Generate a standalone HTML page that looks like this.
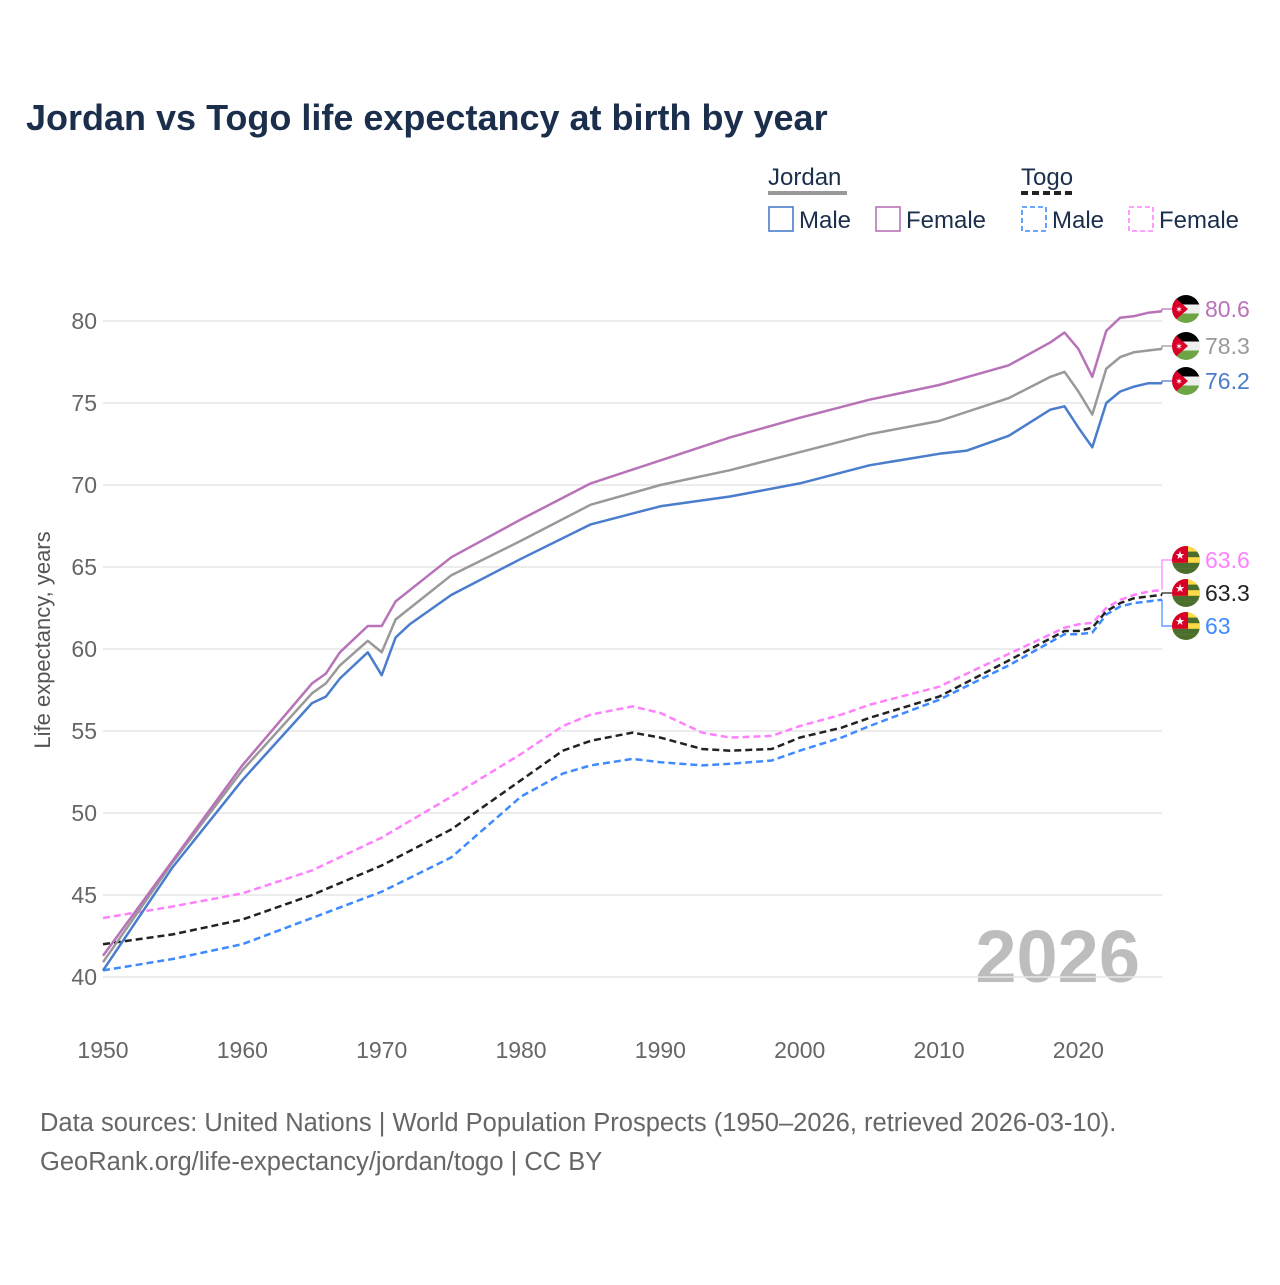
<!DOCTYPE html>
<html><head><meta charset="utf-8">
<style>
body{margin:0;background:#fff;font-family:"Liberation Sans",sans-serif;}
svg text{font-family:"Liberation Sans",sans-serif;}
</style></head>
<body>
<svg id="chart" width="1280" height="1280" viewBox="0 0 1280 1280" xmlns="http://www.w3.org/2000/svg">
<defs>
<clipPath id="cc"><circle cx="0" cy="0" r="14"/></clipPath>
<g id="jo">
<g clip-path="url(#cc)">
<rect x="-14" y="-14" width="28" height="10" fill="#000"/>
<rect x="-14" y="-4.5" width="28" height="9" fill="#eee"/>
<rect x="-14" y="4.5" width="28" height="10" fill="#6da544"/>
<polygon points="-14,-14 2,0 -14,14" fill="#d80027"/>
<text x="-7" y="3.5" font-size="9" fill="#fff" text-anchor="middle">✶</text>
</g></g>
<g id="tg">
<g clip-path="url(#cc)">
<rect x="-14" y="-14" width="28" height="28" fill="#ffda44"/>
<rect x="-14" y="-8.4" width="28" height="5.6" fill="#496e2d"/>
<rect x="-14" y="2.8" width="28" height="5.6" fill="#496e2d"/>
<rect x="-14" y="8.4" width="28" height="6" fill="#496e2d"/>
<rect x="-14" y="-14" width="16" height="16.8" fill="#d80027"/>
<text x="-6" y="-1" font-size="11" fill="#fff" text-anchor="middle">★</text>
</g></g>
</defs>
<text x="26" y="130" font-size="36" font-weight="bold" fill="#1b2f4d">Jordan vs Togo life expectancy at birth by year</text>

<g>
<text x="768" y="185" font-size="24" fill="#1b2f4d">Jordan</text>
<line x1="768" y1="193" x2="847" y2="193" stroke="#999" stroke-width="4"/>
<g>
<rect x="769" y="207" width="24" height="24" fill="none" stroke="#4a7dcc" stroke-width="1.6"/>
<text x="799" y="228" font-size="24" fill="#1b2f4d">Male</text></g>
<g>
<rect x="876" y="207" width="24" height="24" fill="none" stroke="#b873b8" stroke-width="1.6"/>
<text x="906" y="228" font-size="24" fill="#1b2f4d">Female</text></g>
<text x="1021" y="185" font-size="24" fill="#1b2f4d">Togo</text>
<line x1="1021" y1="193" x2="1076" y2="193" stroke="#222" stroke-width="4" stroke-dasharray="7,4"/>
<g>
<rect x="1022" y="207" width="24" height="24" fill="none" stroke="#3d8bff" stroke-width="1.6" stroke-dasharray="5,3"/>
<text x="1052" y="228" font-size="24" fill="#1b2f4d">Male</text></g>
<g>
<rect x="1129" y="207" width="24" height="24" fill="none" stroke="#ff80ff" stroke-width="1.6" stroke-dasharray="5,3"/>
<text x="1159" y="228" font-size="24" fill="#1b2f4d">Female</text></g>
</g>

<text transform="translate(50,640) rotate(-90)" text-anchor="middle" font-size="22" fill="#555">Life expectancy, years</text>
<text x="1140" y="982" text-anchor="end" font-size="74" font-weight="bold" fill="#bdbdbd">2026</text>
<g id="grid"></g>
<g id="series"></g>
<g id="labels"></g>
<text x="40" y="1131" font-size="25.5" fill="#666">Data sources: United Nations | World Population Prospects (1950–2026, retrieved 2026-03-10).</text>
<text x="40" y="1170" font-size="25.5" fill="#666">GeoRank.org/life-expectancy/jordan/togo | CC BY</text>
</svg>
<script>
const yTicks=[40,45,50,55,60,65,70,75,80];
const xTicks=[1950,1960,1970,1980,1990,2000,2010,2020];
const jMaleYears=[1950,1955,1960,1965,1966,1967,1969,1970,1971,1972,1975,1980,1985,1990,1995,2000,2005,2010,2012,2015,2018,2019,2020,2021,2022,2023,2024,2025,2026];
const jMale=[40.4,46.7,52.0,56.7,57.1,58.2,59.8,58.4,60.7,61.5,63.3,65.5,67.6,68.7,69.3,70.1,71.2,71.9,72.1,73.0,74.6,74.8,73.5,72.3,75.0,75.7,76.0,76.2,76.2];
const jAllYears=[1950,1955,1960,1965,1966,1967,1969,1970,1971,1975,1980,1985,1990,1995,2000,2005,2010,2015,2018,2019,2020,2021,2022,2023,2024,2025,2026];
const jAll=[40.9,47.0,52.6,57.3,57.9,59.0,60.5,59.8,61.8,64.5,66.6,68.8,70.0,70.9,72.0,73.1,73.9,75.3,76.6,76.9,75.7,74.3,77.1,77.8,78.1,78.2,78.3];
const jFemYears=[1950,1955,1960,1965,1966,1967,1969,1970,1971,1975,1980,1985,1990,1995,2000,2005,2010,2015,2018,2019,2020,2021,2022,2023,2024,2025,2026];
const jFem=[41.3,47.1,52.9,57.9,58.5,59.8,61.4,61.4,62.9,65.6,67.9,70.1,71.5,72.9,74.1,75.2,76.1,77.3,78.7,79.3,78.3,76.6,79.4,80.2,80.3,80.5,80.6];
const tYears=[1950,1955,1960,1965,1970,1975,1980,1983,1985,1988,1990,1993,1995,1998,2000,2003,2005,2010,2015,2019,2020,2021,2022,2023,2024,2025,2026];
const tFem=[43.6,44.3,45.1,46.5,48.5,51.0,53.6,55.3,56.0,56.5,56.1,54.9,54.6,54.7,55.3,56.0,56.6,57.7,59.7,61.3,61.5,61.6,62.5,63.0,63.3,63.5,63.6];
const tAll=[42.0,42.6,43.5,45.0,46.8,49.0,52.0,53.8,54.4,54.9,54.6,53.9,53.8,53.9,54.6,55.2,55.8,57.1,59.3,61.1,61.1,61.3,62.3,62.8,63.1,63.2,63.3];
const tMale=[40.4,41.1,42.0,43.6,45.2,47.3,51.0,52.4,52.9,53.3,53.1,52.9,53.0,53.2,53.8,54.6,55.3,56.9,59.0,60.9,60.9,61.0,62.1,62.6,62.8,62.9,63.0];

const NS="http://www.w3.org/2000/svg";
const X0=103,X1=1162,Y40=977,Y80=321;
function xs(y){return X0+(y-1950)*(X1-X0)/(2026-1950);}
function ys(v){return Y40-(v-40)*(Y40-Y80)/40;}
function mk(tag,attrs,parent){const e=document.createElementNS(NS,tag);for(const k in attrs)e.setAttribute(k,attrs[k]);parent.appendChild(e);return e;}
const grid=document.getElementById('grid');
yTicks.forEach(t=>{
 const l=mk('line',{x1:X0,x2:X1,y1:ys(t),y2:ys(t),stroke:'#e6e6e6','stroke-width':1.5},grid);
 
 
 const tx=mk('text',{x:97,y:ys(t)+8,'text-anchor':'end','font-size':23,fill:'#666'},grid);
 tx.textContent=t;
 
 
});
xTicks.forEach(t=>{
 const tx=mk('text',{x:xs(t),y:1058,'text-anchor':'middle','font-size':23,fill:'#666'},grid);
 tx.textContent=t;
 
 
});
const ser=document.getElementById('series');
function draw(years,vals,color,dash,name){
 const d=years.map((y,i)=>(i?'L':'M')+xs(y).toFixed(1)+','+ys(vals[i]).toFixed(1)).join(' ');
 const p=mk('path',{d:d,fill:'none',stroke:color,'stroke-width':2.5,'stroke-linejoin':'round'},ser);
 if(dash)p.setAttribute('stroke-dasharray','7,4');
 
 
}
draw(tYears,tMale,'#3d8bff',true,'line-togo-male');
draw(tYears,tFem,'#ff80ff',true,'line-togo-female');
draw(tYears,tAll,'#222',true,'line-togo-total');
draw(jMaleYears,jMale,'#4a7dcc',false,'line-jordan-male');
draw(jAllYears,jAll,'#999',false,'line-jordan-total');
draw(jFemYears,jFem,'#b873b8',false,'line-jordan-female');

const lab=document.getElementById('labels');
function endLabel(val,ly,color,flag,name,txt){
 const ey=ys(val);
 const g=mk('g',{},lab);
 
 
 mk('path',{d:`M${X1},${ey} L${X1},${ly} L1172,${ly}`,fill:'none',stroke:color,'stroke-width':1.2},g);
 mk('use',{href:'#'+flag,x:1186,y:ly},g);
 const t=mk('text',{x:1205,y:ly+8,'font-size':23,fill:color},g);
 t.textContent=txt;
}
endLabel(jFem[jFem.length-1],309,'#b873b8','jo','end-label-jordan-female','80.6');
endLabel(jAll[jAll.length-1],346,'#999','jo','end-label-jordan-total','78.3');
endLabel(jMale[jMale.length-1],381,'#4a7dcc','jo','end-label-jordan-male','76.2');
endLabel(tFem[tFem.length-1],560,'#ff80ff','tg','end-label-togo-female','63.6');
endLabel(tAll[tAll.length-1],593,'#222','tg','end-label-togo-total','63.3');
endLabel(tMale[tMale.length-1],626,'#3d8bff','tg','end-label-togo-male','63');
</script>
</body></html>
